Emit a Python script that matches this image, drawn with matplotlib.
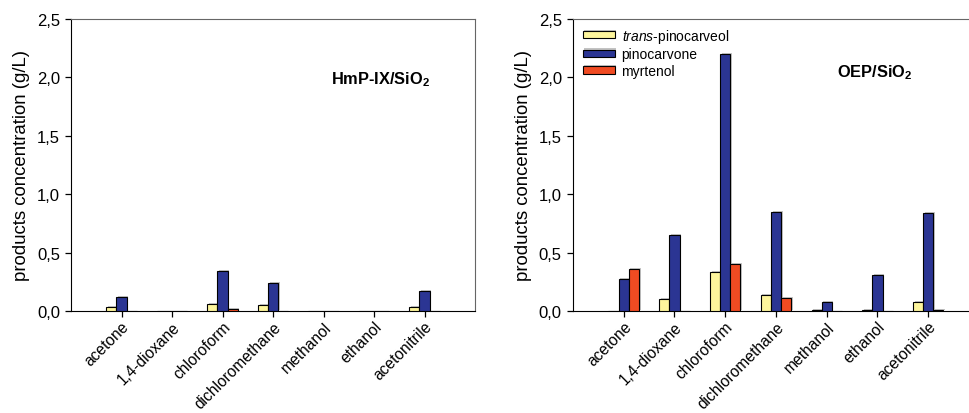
import matplotlib
matplotlib.use("Agg")
import matplotlib.pyplot as plt
import matplotlib.patheffects as pe
import numpy as np

plt.rcParams['font.family'] = ['Liberation Sans', 'DejaVu Sans']
plt.rcParams['mathtext.fontset'] = 'custom'
plt.rcParams['mathtext.rm'] = 'Liberation Sans'
plt.rcParams['mathtext.it'] = 'Liberation Sans:italic'
plt.rcParams['mathtext.bf'] = 'Liberation Sans:bold'

solvents = ["acetone", "1,4-dioxane", "chloroform", "dichloromethane",
            "methanol", "ethanol", "acetonitrile"]
series = [r"$\it{trans}$-pinocarveol", "pinocarvone", "myrtenol"]
colors = ["#fdf59c", "#2b3593", "#f04b22"]

# HmP-IX/SiO2
hmp_trans = [0.03, 0.0, 0.06, 0.05, 0.0, 0.0, 0.03]
hmp_pinocarvone = [0.12, 0.0, 0.34, 0.24, 0.0, 0.0, 0.17]
hmp_myrtenol = [0.0, 0.0, 0.02, 0.0, 0.0, 0.0, 0.0]

# OEP/SiO2
oep_trans = [0.0, 0.10, 0.33, 0.14, 0.01, 0.005, 0.08]
oep_pinocarvone = [0.27, 0.65, 2.20, 0.85, 0.08, 0.31, 0.84]
oep_myrtenol = [0.36, 0.0, 0.40, 0.11, 0.0, 0.0, 0.005]

yticks = [0.0, 0.5, 1.0, 1.5, 2.0, 2.5]
ytick_labels = ["0,0", "0,5", "1,0", "1,5", "2,0", "2,5"]

shadow = [pe.SimplePatchShadow(offset=(1.2, 0.8), shadow_rgbFace="#888888",
                               alpha=0.5), pe.Normal()]


def draw_panel(ax, data, title, tpos, legend=False):
    x = np.arange(len(solvents))
    w = 0.2
    for i, (vals, c, lab) in enumerate(zip(data, colors, series)):
        ax.bar(x + (i - 1) * w, vals, w, color=c, edgecolor="black",
               linewidth=0.8, label=lab, zorder=3, path_effects=shadow)
    ax.set_xlim(-1, 7)
    ax.set_ylim(0, 2.5)
    ax.set_yticks(yticks)
    ax.set_yticklabels(ytick_labels, fontsize=12)
    ax.set_xticks(x)
    ax.set_xticklabels(solvents, rotation=45, ha="right", va="top",
                       rotation_mode="anchor", fontsize=11.2)
    ax.tick_params(direction="out", length=4.5, width=0.9)
    ax.tick_params(axis="x", pad=1.0)
    ax.set_ylabel("products concentration (g/L)", fontsize=13.4, labelpad=5)
    for s in ["top", "right"]:
        ax.spines[s].set_color("#666666")
    ax.text(tpos[0], tpos[1], title, transform=ax.transAxes, fontsize=11.8,
            fontweight="bold", ha="center", va="center")
    if legend:
        ax.legend(loc="upper left", frameon=False, fontsize=10,
                  handlelength=2.3, handleheight=0.45, labelspacing=0.19,
                  handletextpad=0.5, borderpad=0.35,
                  bbox_to_anchor=(0.005, 1.0), borderaxespad=0.2)


fig = plt.figure(figsize=(9.69, 4.14), dpi=100)
ax1 = fig.add_axes([0.0733, 0.2464, 0.4169, 0.7053])
ax2 = fig.add_axes([0.5913, 0.2464, 0.4190, 0.7053])

draw_panel(ax1, [hmp_trans, hmp_pinocarvone, hmp_myrtenol],
           r"HmP-IX/SiO$_\mathbf{2}$", (0.765, 0.795))
draw_panel(ax2, [oep_trans, oep_pinocarvone, oep_myrtenol],
           r"OEP/SiO$_\mathbf{2}$", (0.744, 0.82), legend=True)

fig.savefig("out.png", dpi=100)
